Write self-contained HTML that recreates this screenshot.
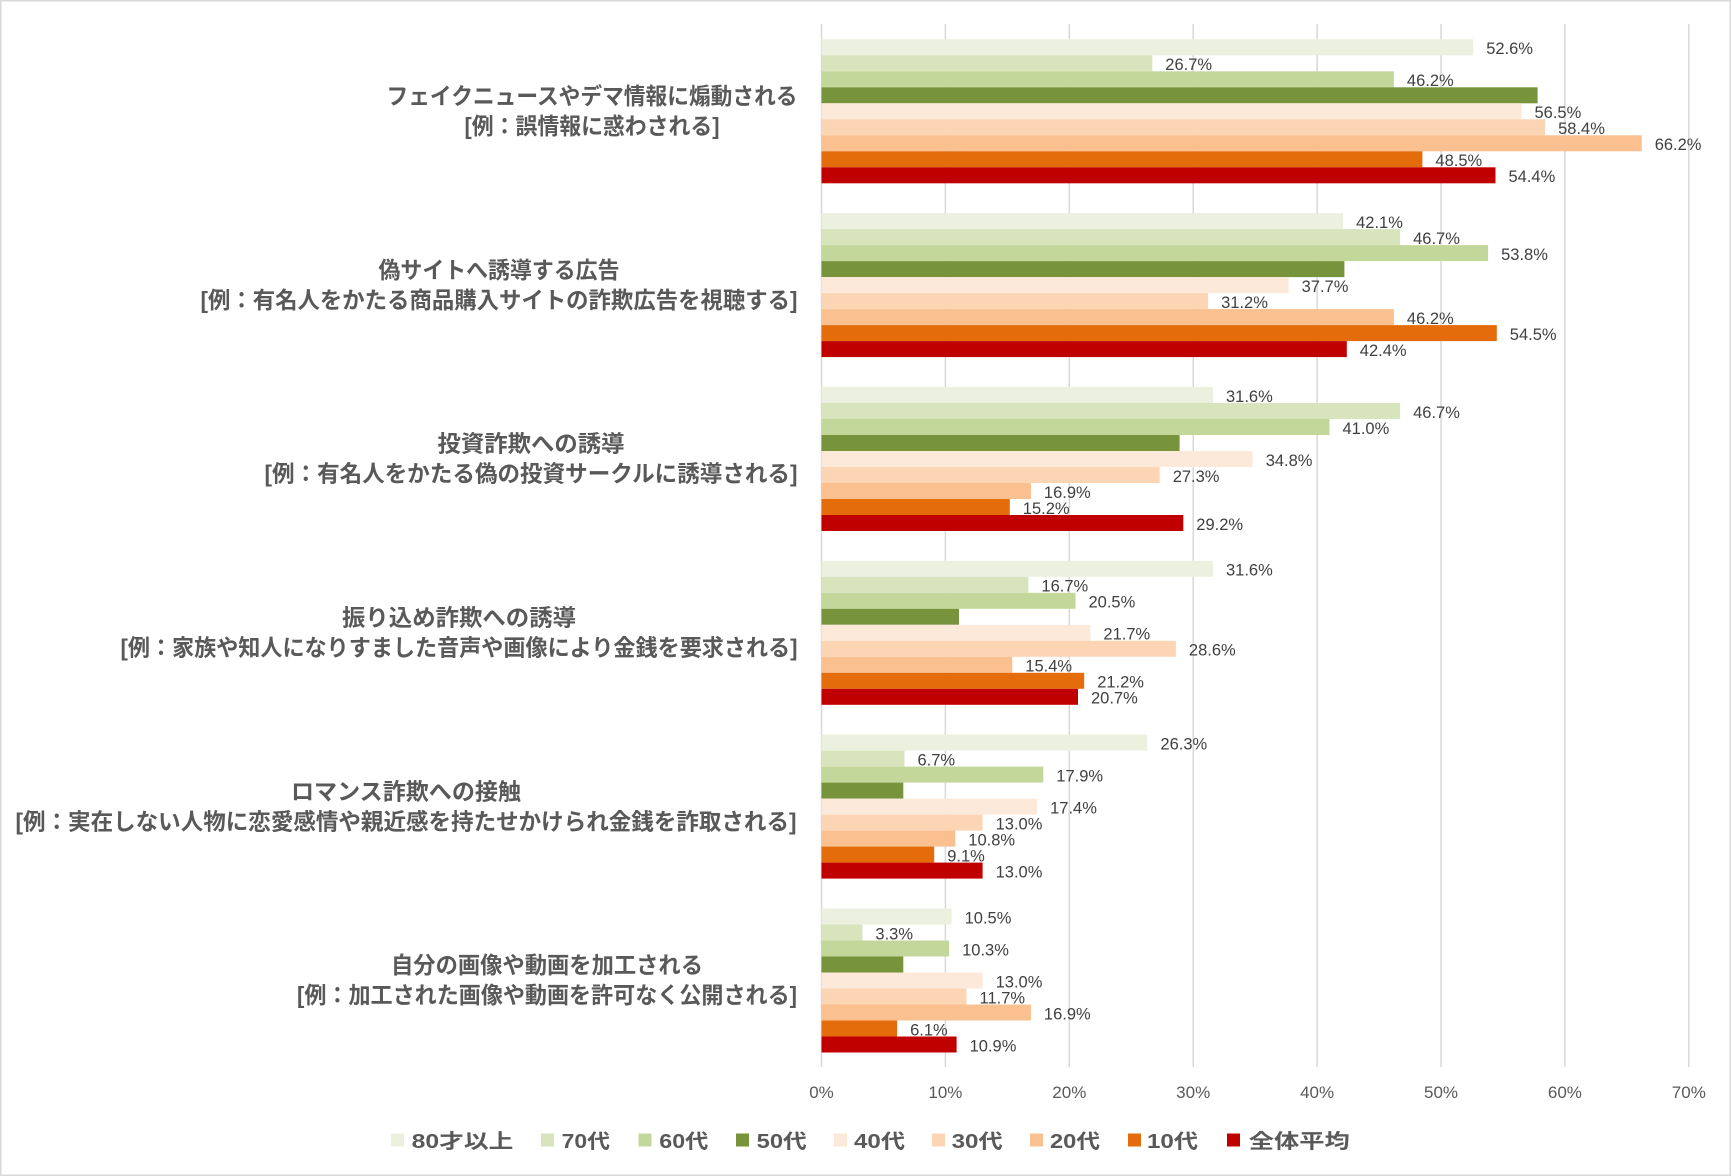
<!DOCTYPE html>
<html>
<head>
<meta charset="utf-8">
<style>
html,body{margin:0;padding:0;background:#fff;}
svg{display:block;}
.dl{font-family:"Liberation Sans","Noto Sans CJK JP",sans-serif;font-size:16.5px;fill:#404040;}
.tk{font-family:"Liberation Sans","Noto Sans CJK JP",sans-serif;font-size:17px;fill:#595959;}
.cat{font-family:"Liberation Sans","Noto Sans CJK JP",sans-serif;font-size:23px;font-weight:bold;fill:#595959;}
.lg{font-family:"Liberation Sans","Noto Sans CJK JP",sans-serif;font-size:20px;font-weight:bold;fill:#595959;}
</style>
</head>
<body>
<svg width="1731" height="1176" viewBox="0 0 1731 1176" xmlns="http://www.w3.org/2000/svg">
<rect x="0" y="0" width="1731" height="1176" fill="#fff"/>
<rect x="0.75" y="0.75" width="1729.5" height="1174.5" fill="none" stroke="#d9d9d9" stroke-width="1.5"/>

<!-- gridlines -->
<g stroke="#d9d9d9" stroke-width="1.5">
<line x1="821.5" y1="24" x2="821.5" y2="1067"/>
<line x1="945.4" y1="24" x2="945.4" y2="1067"/>
<line x1="1069.3" y1="24" x2="1069.3" y2="1067"/>
<line x1="1193.2" y1="24" x2="1193.2" y2="1067"/>
<line x1="1317.1" y1="24" x2="1317.1" y2="1067"/>
<line x1="1441.0" y1="24" x2="1441.0" y2="1067"/>
<line x1="1564.9" y1="24" x2="1564.9" y2="1067"/>
<line x1="1688.8" y1="24" x2="1688.8" y2="1067"/>
</g>

<!-- tick labels -->
<g class="tk" text-anchor="middle">
<text x="821.5" y="1098">0%</text>
<text x="945.4" y="1098">10%</text>
<text x="1069.3" y="1098">20%</text>
<text x="1193.2" y="1098">30%</text>
<text x="1317.1" y="1098">40%</text>
<text x="1441.0" y="1098">50%</text>
<text x="1564.9" y="1098">60%</text>
<text x="1688.8" y="1098">70%</text>
</g>

<!-- Category 1 -->
<g transform="translate(821.5,39.3)">
<rect x="0" y="0" width="651.7" height="16" fill="#EBF1DE"/>
<rect x="0" y="16" width="330.8" height="16" fill="#D8E4BC"/>
<rect x="0" y="32" width="572.4" height="16" fill="#C4D79B"/>
<rect x="0" y="48" width="716.1" height="16" fill="#77933C"/>
<rect x="0" y="64" width="700.0" height="16" fill="#FDE9D9"/>
<rect x="0" y="80" width="723.6" height="16" fill="#FCD5B4"/>
<rect x="0" y="96" width="820.2" height="16" fill="#FAC090"/>
<rect x="0" y="112" width="600.9" height="16" fill="#E46C0A"/>
<rect x="0" y="128" width="674.0" height="16" fill="#C00000"/>
<g class="dl">
<text x="664.7" y="14.8">52.6%</text>
<text x="343.8" y="30.8">26.7%</text>
<text x="585.4" y="46.8">46.2%</text>
<text x="713.0" y="78.8">56.5%</text>
<text x="736.6" y="94.8">58.4%</text>
<text x="833.2" y="110.8">66.2%</text>
<text x="613.9" y="126.8">48.5%</text>
<text x="687.0" y="142.8">54.4%</text>
</g>
</g>

<!-- Category 2 -->
<g transform="translate(821.5,213.1)">
<rect x="0" y="0" width="521.6" height="16" fill="#EBF1DE"/>
<rect x="0" y="16" width="578.6" height="16" fill="#D8E4BC"/>
<rect x="0" y="32" width="666.6" height="16" fill="#C4D79B"/>
<rect x="0" y="48" width="522.9" height="16" fill="#77933C"/>
<rect x="0" y="64" width="467.1" height="16" fill="#FDE9D9"/>
<rect x="0" y="80" width="386.6" height="16" fill="#FCD5B4"/>
<rect x="0" y="96" width="572.4" height="16" fill="#FAC090"/>
<rect x="0" y="112" width="675.3" height="16" fill="#E46C0A"/>
<rect x="0" y="128" width="525.3" height="16" fill="#C00000"/>
<g class="dl">
<text x="534.6" y="14.8">42.1%</text>
<text x="591.6" y="30.8">46.7%</text>
<text x="679.6" y="46.8">53.8%</text>
<text x="480.1" y="78.8">37.7%</text>
<text x="399.6" y="94.8">31.2%</text>
<text x="585.4" y="110.8">46.2%</text>
<text x="688.3" y="126.8">54.5%</text>
<text x="538.3" y="142.8">42.4%</text>
</g>
</g>

<!-- Category 3 -->
<g transform="translate(821.5,387.0)">
<rect x="0" y="0" width="391.5" height="16" fill="#EBF1DE"/>
<rect x="0" y="16" width="578.6" height="16" fill="#D8E4BC"/>
<rect x="0" y="32" width="508.0" height="16" fill="#C4D79B"/>
<rect x="0" y="48" width="358.1" height="16" fill="#77933C"/>
<rect x="0" y="64" width="431.2" height="16" fill="#FDE9D9"/>
<rect x="0" y="80" width="338.2" height="16" fill="#FCD5B4"/>
<rect x="0" y="96" width="209.4" height="16" fill="#FAC090"/>
<rect x="0" y="112" width="188.3" height="16" fill="#E46C0A"/>
<rect x="0" y="128" width="361.8" height="16" fill="#C00000"/>
<g class="dl">
<text x="404.5" y="14.8">31.6%</text>
<text x="591.6" y="30.8">46.7%</text>
<text x="521.0" y="46.8">41.0%</text>
<text x="444.2" y="78.8">34.8%</text>
<text x="351.2" y="94.8">27.3%</text>
<text x="222.4" y="110.8">16.9%</text>
<text x="201.3" y="126.8">15.2%</text>
<text x="374.8" y="142.8">29.2%</text>
</g>
</g>

<!-- Category 4 -->
<g transform="translate(821.5,560.8)">
<rect x="0" y="0" width="391.5" height="16" fill="#EBF1DE"/>
<rect x="0" y="16" width="206.9" height="16" fill="#D8E4BC"/>
<rect x="0" y="32" width="254.0" height="16" fill="#C4D79B"/>
<rect x="0" y="48" width="137.5" height="16" fill="#77933C"/>
<rect x="0" y="64" width="268.9" height="16" fill="#FDE9D9"/>
<rect x="0" y="80" width="354.4" height="16" fill="#FCD5B4"/>
<rect x="0" y="96" width="190.8" height="16" fill="#FAC090"/>
<rect x="0" y="112" width="262.7" height="16" fill="#E46C0A"/>
<rect x="0" y="128" width="256.5" height="16" fill="#C00000"/>
<g class="dl">
<text x="404.5" y="14.8">31.6%</text>
<text x="219.9" y="30.8">16.7%</text>
<text x="267.0" y="46.8">20.5%</text>
<text x="281.9" y="78.8">21.7%</text>
<text x="367.4" y="94.8">28.6%</text>
<text x="203.8" y="110.8">15.4%</text>
<text x="275.7" y="126.8">21.2%</text>
<text x="269.5" y="142.8">20.7%</text>
</g>
</g>

<!-- Category 5 -->
<g transform="translate(821.5,734.6)">
<rect x="0" y="0" width="325.9" height="16" fill="#EBF1DE"/>
<rect x="0" y="16" width="83.0" height="16" fill="#D8E4BC"/>
<rect x="0" y="32" width="221.8" height="16" fill="#C4D79B"/>
<rect x="0" y="48" width="81.8" height="16" fill="#77933C"/>
<rect x="0" y="64" width="215.6" height="16" fill="#FDE9D9"/>
<rect x="0" y="80" width="161.1" height="16" fill="#FCD5B4"/>
<rect x="0" y="96" width="133.8" height="16" fill="#FAC090"/>
<rect x="0" y="112" width="112.7" height="16" fill="#E46C0A"/>
<rect x="0" y="128" width="161.1" height="16" fill="#C00000"/>
<g class="dl">
<text x="338.9" y="14.8">26.3%</text>
<text x="96.0" y="30.8">6.7%</text>
<text x="234.8" y="46.8">17.9%</text>
<text x="228.6" y="78.8">17.4%</text>
<text x="174.1" y="94.8">13.0%</text>
<text x="146.8" y="110.8">10.8%</text>
<text x="125.7" y="126.8">9.1%</text>
<text x="174.1" y="142.8">13.0%</text>
</g>
</g>

<!-- Category 6 -->
<g transform="translate(821.5,908.5)">
<rect x="0" y="0" width="130.1" height="16" fill="#EBF1DE"/>
<rect x="0" y="16" width="40.9" height="16" fill="#D8E4BC"/>
<rect x="0" y="32" width="127.6" height="16" fill="#C4D79B"/>
<rect x="0" y="48" width="81.8" height="16" fill="#77933C"/>
<rect x="0" y="64" width="161.1" height="16" fill="#FDE9D9"/>
<rect x="0" y="80" width="145.0" height="16" fill="#FCD5B4"/>
<rect x="0" y="96" width="209.4" height="16" fill="#FAC090"/>
<rect x="0" y="112" width="75.6" height="16" fill="#E46C0A"/>
<rect x="0" y="128" width="135.1" height="16" fill="#C00000"/>
<g class="dl">
<text x="143.1" y="14.8">10.5%</text>
<text x="53.9" y="30.8">3.3%</text>
<text x="140.6" y="46.8">10.3%</text>
<text x="174.1" y="78.8">13.0%</text>
<text x="158.0" y="94.8">11.7%</text>
<text x="222.4" y="110.8">16.9%</text>
<text x="88.6" y="126.8">6.1%</text>
<text x="148.1" y="142.8">10.9%</text>
</g>
</g>

<!-- Category labels -->
<g class="cat" text-anchor="middle">
<text x="592" y="104" textLength="411" lengthAdjust="spacingAndGlyphs">フェイクニュースやデマ情報に煽動される</text>
<text x="592" y="134" textLength="255" lengthAdjust="spacingAndGlyphs">[例：誤情報に惑わされる]</text>

<text x="499" y="277.8" textLength="241" lengthAdjust="spacingAndGlyphs">偽サイトへ誘導する広告</text>
<text x="499" y="307.8" textLength="597" lengthAdjust="spacingAndGlyphs">[例：有名人をかたる商品購入サイトの詐欺広告を視聴する]</text>

<text x="531" y="451.7" textLength="187" lengthAdjust="spacingAndGlyphs">投資詐欺への誘導</text>
<text x="531" y="481.7" textLength="533" lengthAdjust="spacingAndGlyphs">[例：有名人をかたる偽の投資サークルに誘導される]</text>

<text x="459" y="625.5" textLength="234" lengthAdjust="spacingAndGlyphs">振り込め詐欺への誘導</text>
<text x="459" y="655.5" textLength="677" lengthAdjust="spacingAndGlyphs">[例：家族や知人になりすました音声や画像により金銭を要求される]</text>

<text x="406" y="799.3" textLength="230" lengthAdjust="spacingAndGlyphs">ロマンス詐欺への接触</text>
<text x="406" y="829.3" textLength="781" lengthAdjust="spacingAndGlyphs">[例：実在しない人物に恋愛感情や親近感を持たせかけられ金銭を詐取される]</text>

<text x="547" y="973.2" textLength="312" lengthAdjust="spacingAndGlyphs">自分の画像や動画を加工される</text>
<text x="547" y="1003.2" textLength="500" lengthAdjust="spacingAndGlyphs">[例：加工された画像や動画を許可なく公開される]</text>
</g>

<!-- Legend -->
<g>
<rect x="391" y="1133.5" width="13" height="13" fill="#EBF1DE"/>
<rect x="541" y="1133.5" width="13" height="13" fill="#D8E4BC"/>
<rect x="638.5" y="1133.5" width="13" height="13" fill="#C4D79B"/>
<rect x="736" y="1133.5" width="13" height="13" fill="#77933C"/>
<rect x="834" y="1133.5" width="13" height="13" fill="#FDE9D9"/>
<rect x="932" y="1133.5" width="13" height="13" fill="#FCD5B4"/>
<rect x="1030" y="1133.5" width="13" height="13" fill="#FAC090"/>
<rect x="1128" y="1133.5" width="13" height="13" fill="#E46C0A"/>
<rect x="1227" y="1133.5" width="13" height="13" fill="#C00000"/>
</g>
<g class="lg">
<text x="411.7" y="1148" textLength="101.6" lengthAdjust="spacingAndGlyphs">80才以上</text>
<text x="561.7" y="1148" textLength="48.3" lengthAdjust="spacingAndGlyphs">70代</text>
<text x="659.3" y="1148" textLength="49" lengthAdjust="spacingAndGlyphs">60代</text>
<text x="756.7" y="1148" textLength="50" lengthAdjust="spacingAndGlyphs">50代</text>
<text x="854" y="1148" textLength="51" lengthAdjust="spacingAndGlyphs">40代</text>
<text x="951.6" y="1148" textLength="51" lengthAdjust="spacingAndGlyphs">30代</text>
<text x="1050" y="1148" textLength="50" lengthAdjust="spacingAndGlyphs">20代</text>
<text x="1147" y="1148" textLength="51" lengthAdjust="spacingAndGlyphs">10代</text>
<text x="1248.8" y="1148" textLength="101" lengthAdjust="spacingAndGlyphs">全体平均</text>
</g>
</svg>
</body>
</html>
